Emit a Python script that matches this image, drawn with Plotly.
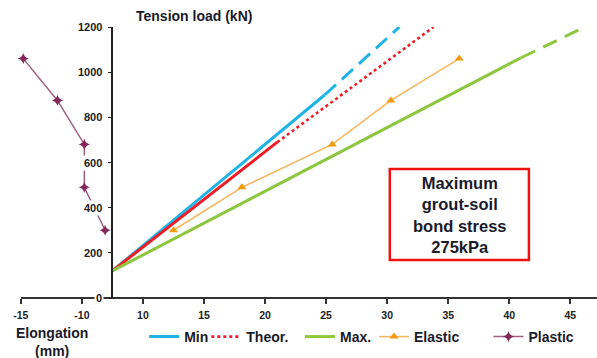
import plotly.graph_objects as go

# ---------------- data ----------------
min_elong = [7.5, 24.9, 31.0]
min_load = [120, 900, 1200]
theor_elong = [7.5, 21.0, 33.8]
theor_load = [120, 690, 1200]
max_elong = [7.5, 41.0, 46.2]
max_load = [120, 1065, 1200]
elastic_elong = [12.5, 18.1, 25.5, 30.3, 35.9]
elastic_load = [300, 490, 680, 875, 1060]
plastic_elong = [-8.1, -9.8, -9.8, -12.0, -14.8]
plastic_load = [300, 490, 680, 875, 1060]
x_tick_labels = [-15, -10, 10, 15, 20, 25, 30, 35, 40, 45]
y_tick_labels = [0, 200, 400, 600, 800, 1000, 1200]

# broken elongation axis: negative values are shifted right by this offset
NEG_OFFSET = 15


def to_axis(v):
    return v + NEG_OFFSET if v < 0 else v


FONT = "Liberation Sans, Arial, sans-serif"
TXT = "#1a1a2a"

BLUE = "#1fb2e6"
RED = "#ee1d25"
GREEN = "#8dc63f"
ORANGE_L = "#f6b45c"
ORANGE_M = "#f39a12"
PURPLE_L = "#a0607f"
PURPLE_M = "#84285a"

W, H = 597, 358
X_DOM = [13 / W, 1.0]
X_RANGE = [0, (W - 13) / 12.378]
Y_DOM = [(H - 298) / H, (H - 27) / H]
Y_RANGE = [0, 1200]
Y_AXIS_X = 7.5
y_axis_paper = X_DOM[0] + (Y_AXIS_X - X_RANGE[0]) / (X_RANGE[1] - X_RANGE[0]) * (X_DOM[1] - X_DOM[0])

fig = go.Figure()

# Min
fig.add_trace(go.Scatter(x=min_elong[:2], y=min_load[:2], mode="lines", name="Min",
                         line=dict(color=BLUE, width=3), legend="legend", cliponaxis=False))
fig.add_trace(go.Scatter(x=min_elong[1:], y=min_load[1:], mode="lines", showlegend=False,
                         line=dict(color=BLUE, width=3, dash="15px,8px"), cliponaxis=False))
# Theor.
fig.add_trace(go.Scatter(x=theor_elong[:2], y=theor_load[:2], mode="lines", showlegend=False,
                         line=dict(color=RED, width=3), cliponaxis=False))
fig.add_trace(go.Scatter(x=theor_elong[1:], y=theor_load[1:], mode="lines", name="Theor.",
                         line=dict(color=RED, width=2.6, dash="dot"), legend="legend2", cliponaxis=False))
# Max.
fig.add_trace(go.Scatter(x=max_elong[:2], y=max_load[:2], mode="lines", name="Max.",
                         line=dict(color=GREEN, width=3), legend="legend3", cliponaxis=False))
fig.add_trace(go.Scatter(x=max_elong[1:], y=max_load[1:], mode="lines", showlegend=False,
                         line=dict(color=GREEN, width=3, dash="15px,9px"), cliponaxis=False))
# Elastic
fig.add_trace(go.Scatter(x=elastic_elong, y=elastic_load, mode="lines+markers", name="Elastic",
                         line=dict(color=ORANGE_L, width=1.5),
                         marker=dict(symbol="triangle-up", size=8, color=ORANGE_M),
                         legend="legend4", cliponaxis=False))
# Plastic
fig.add_trace(go.Scatter(x=[to_axis(v) for v in plastic_elong], y=plastic_load, mode="lines+markers",
                         name="Plastic", line=dict(color=PURPLE_L, width=1.5),
                         marker=dict(symbol="star-diamond", size=8, color=PURPLE_M),
                         legend="legend5", cliponaxis=False))

# y tick labels with white background (they hide the plastic line as in the original)
annotations = []
for v in y_tick_labels:
    annotations.append(dict(x=Y_AXIS_X, y=v, xref="x", yref="y", text=str(v), showarrow=False,
                            xanchor="right", yanchor="middle", xshift=-8, bgcolor="white",
                            borderpad=1,
                            font=dict(family=FONT, size=11, color="#222", weight="bold")))

annotations.append(dict(x=128 / W, y=(H - 16) / H, xref="paper", yref="paper",
                        text="Tension load (kN)", showarrow=False, xanchor="left", yanchor="middle",
                        font=dict(family=FONT, size=14, color=TXT, weight="bold")))
annotations.append(dict(x=45 / W, y=(H - 342) / H, xref="paper", yref="paper",
                        text="Elongation<br>(mm)", showarrow=False, xanchor="center", yanchor="middle",
                        font=dict(family=FONT, size=14, color=TXT, weight="bold")))
annotations.append(dict(x=458 / W, y=(H - 215) / H, xref="paper", yref="paper",
                        text="Maximum<br>grout-soil<br>bond stress<br>275kPa", showarrow=False,
                        xanchor="center", yanchor="middle",
                        font=dict(family=FONT, size=16.5, color=TXT, weight="bold")))

shapes = [dict(type="rect", xref="paper", yref="paper", x0=387 / W, x1=528 / W,
               y0=(H - 260) / H, y1=(H - 169) / H, line=dict(color="#ee1111", width=2.5),
               fillcolor="white", layer="below")]

legend_font = dict(family=FONT, size=14, color=TXT, weight="bold")
LEG_Y = (H - 337) / H


def leg(px):
    return dict(x=px / W, y=LEG_Y, xanchor="left", yanchor="middle", orientation="h",
                bgcolor="rgba(0,0,0,0)", font=legend_font, borderwidth=0)


fig.update_layout(
    width=W, height=H,
    margin=dict(l=0, r=0, t=0, b=0),
    paper_bgcolor="white", plot_bgcolor="white",
    xaxis=dict(domain=X_DOM, range=X_RANGE, anchor="free", position=Y_DOM[0],
               tickmode="array", tickvals=[to_axis(v) for v in x_tick_labels],
               ticktext=[str(v) for v in x_tick_labels],
               showline=True, linecolor="#333", linewidth=1.5,
               ticks="outside", ticklen=5, tickwidth=1.5, tickcolor="#333",
               ticklabelstandoff=3,
               showgrid=False, zeroline=False,
               tickfont=dict(family=FONT, size=10.5, color="#222", weight="bold")),
    yaxis=dict(domain=Y_DOM, range=Y_RANGE, anchor="free", position=y_axis_paper,
               tickmode="array", tickvals=y_tick_labels, showticklabels=False,
               showline=True, linecolor="#222", linewidth=1.5,
               ticks="outside", ticklen=4, tickwidth=1.2, tickcolor="#222",
               showgrid=False, zeroline=False),
    legend=leg(138), legend2=leg(201), legend3=leg(296), legend4=leg(371), legend5=leg(487),
    annotations=annotations, shapes=shapes,
)

fig.write_html("out.html")
